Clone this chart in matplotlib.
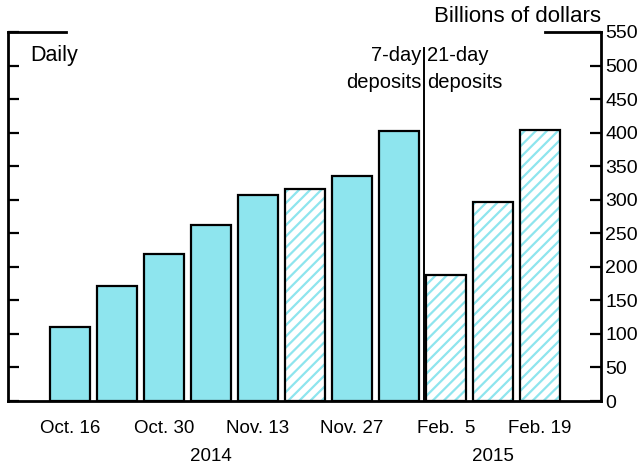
import matplotlib
matplotlib.use("Agg")
import matplotlib.pyplot as plt
import numpy as np

plt.rcParams['font.family'] = ['Liberation Sans', 'DejaVu Sans']
plt.rcParams['hatch.linewidth'] = 1.6

# weekly deposit volumes, billions of dollars
dates = ['Oct. 16', 'Oct. 23', 'Oct. 30', 'Nov. 6', 'Nov. 13', 'Nov. 20',
         'Nov. 27', 'Dec. 4', 'Feb.  5', 'Feb. 12', 'Feb. 19']
values = [110, 171, 219, 262, 307, 316, 335, 402, 188, 297, 404]
hatched = [False, False, False, False, False, True, False, False, True, True, True]
tick_idx = [0, 2, 4, 6, 8, 10]
years = ['2014', '2015']

cyan = '#8EE5EE'
x = np.arange(len(values))

fig = plt.figure(figsize=(6.39, 4.65), dpi=100)
ax = fig.add_axes([8 / 639, 64 / 465, 593 / 639, 369 / 465])

for xi, v, h in zip(x, values, hatched):
    if h:
        ax.bar(xi, v, width=0.85, color='white', edgecolor=cyan, hatch='///', linewidth=0, zorder=2)
        ax.bar(xi, v, width=0.85, fill=False, edgecolor='black', linewidth=1.6, zorder=3)
    else:
        ax.bar(xi, v, width=0.85, color=cyan, edgecolor='black', linewidth=1.6, zorder=3)

ax.set_xlim(-1.32, 11.3)
ax.set_ylim(0, 550)

# divider between 7-day and 21-day
ax.axvline(7.54, ymax=0.957, color='black', linewidth=1.4, zorder=4)
ax.text(7.48, 529, '7-day\ndeposits', ha='right', va='top', fontsize=14.5, linespacing=1.5)
ax.text(7.60, 529, '21-day\ndeposits', ha='left', va='top', fontsize=14.5, linespacing=1.5)

ax.set_xticks(tick_idx)
ax.set_xticklabels([dates[i] for i in tick_idx], fontsize=13.5)
ax.tick_params(axis='x', length=0, pad=14)

ax.yaxis.tick_right()
ax.set_yticks(np.arange(0, 551, 50))
ax.tick_params(axis='y', which='both', direction='in', length=8, width=1.6,
               labelsize=14, pad=3, left=True, right=True, labelleft=False, labelright=True)

for s in ['left', 'right', 'bottom']:
    ax.spines[s].set_linewidth(2)
ax.spines['top'].set_visible(False)
ax.plot([0, 0.098], [1, 1], transform=ax.transAxes, color='black', linewidth=2, clip_on=False, solid_capstyle='projecting')
ax.plot([0.906, 1], [1, 1], transform=ax.transAxes, color='black', linewidth=2, clip_on=False, solid_capstyle='projecting')

ax.text(3, -0.15, years[0], transform=ax.get_xaxis_transform(), ha='center', va='center', fontsize=13.5)
ax.text(9, -0.15, years[1], transform=ax.get_xaxis_transform(), ha='center', va='center', fontsize=13.5)

ax.text(0.037, 0.935, 'Daily', transform=ax.transAxes, ha='left', va='center', fontsize=15.5)
ax.text(1.0, 1.042, 'Billions of dollars', transform=ax.transAxes, ha='right', va='center', fontsize=16)

fig.savefig('out.png', dpi=100)
